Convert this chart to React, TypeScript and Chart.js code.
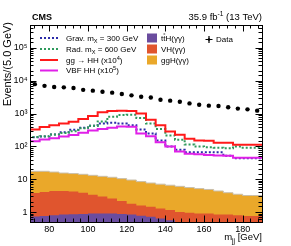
import React, { useEffect, useRef } from "react";
import { Chart, registerables } from "chart.js";

Chart.register(...registerables);

// ---- data ----
const binEdges = [70, 75, 80, 85, 90, 95, 100, 105, 110, 115, 120, 125, 130, 135, 140, 145, 150, 155, 160, 165, 170, 175, 180, 185, 190];
const binCenters = [72.5, 77.5, 82.5, 87.5, 92.5, 97.5, 102.5, 107.5, 112.5, 117.5, 122.5, 127.5, 132.5, 137.5, 142.5, 147.5, 152.5, 157.5, 162.5, 167.5, 172.5, 177.5, 182.5, 187.5];

const dataEvents = [7900, 7000, 6500, 6300, 6000, 5300, 5000, 4650, 4350, 3950, 3600, 3250, 3100, 2650, 2480, 2300, 2050, 1870, 1750, 1700, 1560, 1420, 1350, 1230];
const ggHHx1e4 = [320, 330, 390, 440, 500, 570, 680, 850, 1100, 1200, 1230, 1200, 1000, 650, 440, 285, 226, 171, 152, 150, 130, 130, 112, 112];
const vbfHHx1e5 = [145, 145, 163, 178, 200, 225, 260, 305, 340, 370, 405, 395, 250, 205, 135, 100, 70, 60, 58, 55, 53, 52, 45, 45];
const gravM300 = [182, 190, 200, 230, 270, 320, 370, 430, 500, 525, 500, 440, 330, 250, 152, 100, 80, 67, 67, 67, 66, 52, 44, 44];
const radM600 = [190, 195, 205, 230, 255, 290, 360, 430, 580, 800, 900, 920, 740, 500, 340, 215, 160, 115, 100, 95, 92, 88, 100, 92];

const ttH = [0.72, 0.74, 0.76, 0.8, 0.84, 0.86, 0.88, 0.9, 0.91, 0.91, 0.88, 0.84, 0.78, 0.72, 0.64, 0.57, 0.48, 0.45, 0.42, 0.4, 0.38, 0.36, 0.34, 0.32];
const VH = [2.6, 3.05, 3.35, 3.6, 3.55, 3.35, 3.0, 2.5, 2.1, 1.7, 1.3, 0.96, 0.82, 0.73, 0.66, 0.58, 0.52, 0.5, 0.48, 0.5, 0.47, 0.49, 0.46, 0.44];
const ggH = [14.7, 13.7, 13.4, 12.2, 11.1, 10.7, 10.3, 9.8, 9.3, 8.9, 8.3, 7.7, 6.9, 6.25, 5.8, 5.45, 5.1, 4.65, 4.3, 4.0, 3.55, 3.05, 2.7, 2.45];

const xTickValues = [80, 100, 120, 140, 160, 180];
const yTickValues = [1, 10, 100, 1000, 10000, 100000];
const yTickLabels = ["1", "10", "10\u00b2", "10\u00b3", "10\u2074", "10\u2075"];

// ---- styles ----
const FONT = "'Liberation Sans', Arial, Helvetica, sans-serif";
const C_RED = "#ff1a1a";
const C_MAG = "#e020e8";
const C_GREEN = "#2e9a5c";
const C_BLUE = "#2b2ba8";
const C_TTH = "#6a4c9e";
const C_VH = "#e0552e";
const C_GGH = "#eaa82a";

function histPoints(vals: number[], lead: boolean) {
  const pts: { x: number; y: number }[] = [];
  if (lead) pts.push({ x: binEdges[0], y: 1e-3 });
  vals.forEach((v, i) => pts.push({ x: binEdges[i], y: v }));
  pts.push({ x: binEdges[binEdges.length - 1], y: vals[vals.length - 1] });
  return pts;
}

function cumulative(...arrs: number[][]) {
  return arrs[0].map((_, i) => arrs.reduce((s, a) => s + a[i], 0));
}

type Part = [string, string?];

function rich(ctx: CanvasRenderingContext2D, x: number, y: number, parts: Part[], size: number, align: "left" | "right" = "left", bold = false) {
  const f = (s: number) => `${bold ? "bold " : ""}${s}px ${FONT}`;
  let total = 0;
  const widths = parts.map(([t, m]) => {
    ctx.font = f(m === "sub" || m === "sup" ? size * 0.7 : size);
    const w = ctx.measureText(t).width;
    total += w;
    return w;
  });
  let cx = align === "right" ? x - total : x;
  ctx.textAlign = "left";
  parts.forEach(([t, m], i) => {
    const small = m === "sub" || m === "sup";
    ctx.font = f(small ? size * 0.7 : size);
    const dy = m === "sub" ? size * 0.3 : m === "sup" ? -size * 0.42 : 0;
    ctx.fillText(t, cx, y + dy);
    if (m === "bar") {
      ctx.save();
      ctx.lineWidth = 0.8;
      ctx.beginPath();
      ctx.moveTo(cx + 0.3, y - size * 0.86);
      ctx.lineTo(cx + widths[i] - 0.3, y - size * 0.86);
      ctx.stroke();
      ctx.restore();
    }
    cx += widths[i];
  });
}

const framePlugin = {
  id: "rootFrame",
  afterDraw(chart: any) {
    const ctx: CanvasRenderingContext2D = chart.ctx;
    const { left, right, top, bottom } = chart.chartArea;
    const xs = chart.scales.x;
    const ys = chart.scales.y;
    ctx.save();
    ctx.strokeStyle = "#000";
    ctx.fillStyle = "#000";
    ctx.lineWidth = 1;
    ctx.strokeRect(Math.round(left) + 0.5, Math.round(top) + 0.5, Math.round(right - left), Math.round(bottom - top));

    const MAJ = 6.5;
    const MIN = 3.5;
    ctx.beginPath();
    for (let v = 72; v <= 188; v += 4) {
      const px = Math.round(xs.getPixelForValue(v)) + 0.5;
      const len = xTickValues.includes(v) ? MAJ : MIN;
      ctx.moveTo(px, bottom);
      ctx.lineTo(px, bottom - len);
      ctx.moveTo(px, top);
      ctx.lineTo(px, top + len);
    }
    ys.ticks.forEach((t: any) => {
      const v = t.value;
      const py = Math.round(ys.getPixelForValue(v)) + 0.5;
      if (py < top || py > bottom) return;
      const major = yTickValues.some((d) => Math.abs(d - v) / d < 1e-6);
      const len = major ? MAJ : MIN;
      ctx.moveTo(left, py);
      ctx.lineTo(left + len, py);
      ctx.moveTo(right, py);
      ctx.lineTo(right - len, py);
    });
    ctx.stroke();

    // header
    ctx.textBaseline = "alphabetic";
    rich(ctx, 32, 20, [["CMS"]], 9, "left", true);
    rich(ctx, 262, 20, [["35.9 fb"], ["-1", "sup"], [" (13 TeV)"]], 9.5, "right");

    // axis titles
    rich(ctx, 262, 240, [["m"], ["jj", "sub"], [" [GeV]"]], 9.5, "right");
    ctx.save();
    ctx.translate(11, 22);
    ctx.rotate(-Math.PI / 2);
    ctx.font = `11px ${FONT}`;
    ctx.textAlign = "right";
    ctx.fillText("Events/(5.0 GeV)", 0, 0);
    ctx.restore();

    // legend column 1
    const rows = [38, 49, 60, 70.5];
    const lx0 = 40, lx1 = 58, tx = 66, fs = 8;
    const lineEntries: { c: string; dash: number[]; parts: Part[] }[] = [
      { c: C_BLUE, dash: [2, 2], parts: [["Grav. m"], ["X", "sub"], [" = 300 GeV"]] },
      { c: C_GREEN, dash: [2, 2], parts: [["Rad. m"], ["X", "sub"], [" = 600 GeV"]] },
      { c: C_RED, dash: [], parts: [["gg \u2192 HH (x10"], ["4", "sup"], [")"]] },
      { c: C_MAG, dash: [], parts: [["VBF HH (x10"], ["5", "sup"], [")"]] },
    ];
    lineEntries.forEach((e, i) => {
      ctx.save();
      ctx.strokeStyle = e.c;
      ctx.lineWidth = 2;
      ctx.setLineDash(e.dash);
      ctx.beginPath();
      ctx.moveTo(lx0, rows[i]);
      ctx.lineTo(lx1, rows[i]);
      ctx.stroke();
      ctx.restore();
      ctx.fillStyle = "#000";
      rich(ctx, tx, rows[i] + fs * 0.36, e.parts, fs);
    });
    // legend column 2
    const boxEntries: { c: string; parts: Part[] }[] = [
      { c: C_TTH, parts: [["t"], ["t", "bar"], ["H(\u03b3\u03b3)"]] },
      { c: C_VH, parts: [["VH(\u03b3\u03b3)"]] },
      { c: C_GGH, parts: [["ggH(\u03b3\u03b3)"]] },
    ];
    boxEntries.forEach((e, i) => {
      ctx.fillStyle = e.c;
      ctx.fillRect(147, rows[i] - 4.5, 10, 9);
      ctx.fillStyle = "#000";
      ctx.strokeStyle = "#000";
      rich(ctx, 161, rows[i] + fs * 0.36, e.parts, fs);
    });
    // data legend
    ctx.beginPath();
    ctx.lineWidth = 1.2;
    ctx.moveTo(209, 36);
    ctx.lineTo(209, 43);
    ctx.moveTo(205.5, 39.5);
    ctx.lineTo(212.5, 39.5);
    ctx.stroke();
    ctx.beginPath();
    ctx.arc(209, 39.5, 1.3, 0, Math.PI * 2);
    ctx.fill();
    rich(ctx, 216, 39.5 + fs * 0.36, [["Data"]], fs);
    ctx.restore();
  },
};

export default function App() {
  const ref = useRef<HTMLCanvasElement | null>(null);

  useEffect(() => {
    document.body.style.margin = "0";
    const canvas = ref.current;
    if (!canvas) return;

    const cumTTH = cumulative(ttH);
    const cumVH = cumulative(ttH, VH);
    const cumGGH = cumulative(ttH, VH, ggH);

    const lineDs = (label: string, vals: number[], color: string, dash: number[], width: number) => ({
      label,
      data: histPoints(vals, true),
      stepped: "after" as const,
      borderColor: color,
      borderWidth: width,
      borderDash: dash,
      pointRadius: 0,
      fill: false,
    });
    const areaDs = (label: string, vals: number[], color: string, border: string, bw: number) => ({
      label,
      data: histPoints(vals, false),
      stepped: "after" as const,
      borderColor: border,
      borderWidth: bw,
      backgroundColor: color,
      pointRadius: 0,
      fill: "start" as const,
    });

    const chart = new Chart(canvas, {
      type: "line",
      data: {
        datasets: [
          {
            label: "Data",
            data: binCenters.map((x, i) => ({ x, y: dataEvents[i] })),
            showLine: false,
            pointRadius: 2.2,
            pointBackgroundColor: "#000",
            pointBorderWidth: 0,
            borderColor: "#000",
          } as any,
          lineDs("VBF HH (x10^5)", vbfHHx1e5, C_MAG, [], 2),
          lineDs("gg -> HH (x10^4)", ggHHx1e4, C_RED, [], 2),
          lineDs("Rad. mX = 600 GeV", radM600, C_GREEN, [2, 2], 2),
          lineDs("Grav. mX = 300 GeV", gravM300, C_BLUE, [2, 2], 2),
          areaDs("ttH", cumTTH, C_TTH, C_TTH, 0),
          areaDs("VH", cumVH, C_VH, C_VH, 0),
          areaDs("ggH", cumGGH, C_GGH, "#c9c0ae", 1),
        ],
      },
      options: {
        animation: false,
        responsive: false,
        devicePixelRatio: 1,
        layout: { padding: { top: 25, right: 29, left: 0, bottom: 0 } },
        plugins: { legend: { display: false }, tooltip: { enabled: false } },
        scales: {
          x: {
            type: "linear",
            min: 70,
            max: 190,
            afterFit: (s: any) => {
              s.height = 24;
            },
            afterBuildTicks: (s: any) => {
              s.ticks = xTickValues.map((v) => ({ value: v }));
            },
            grid: { display: false, drawTicks: false },
            border: { display: false },
            ticks: {
              padding: 2,
              color: "#000",
              autoSkip: false,
              maxRotation: 0,
              font: { family: FONT, size: 9 },
            },
          },
          y: {
            type: "logarithmic",
            min: 0.5,
            max: 500000,
            afterFit: (s: any) => {
              s.width = 30;
            },
            grid: { display: false, drawTicks: false },
            border: { display: false },
            ticks: {
              padding: 2.5,
              color: "#000",
              autoSkip: false,
              font: { family: FONT, size: 9 },
              callback: (v: any) => {
                const idx = yTickValues.findIndex((d) => Math.abs(d - Number(v)) / d < 1e-6);
                return idx >= 0 ? yTickLabels[idx] : "";
              },
            },
          },
        },
      } as any,
      plugins: [framePlugin],
    });

    return () => chart.destroy();
  }, []);

  return (
    <div style={{ width: 291, height: 246, background: "#fff" }}>
      <canvas ref={ref} width={291} height={246} style={{ display: "block", width: 291, height: 246 }} />
    </div>
  );
}
